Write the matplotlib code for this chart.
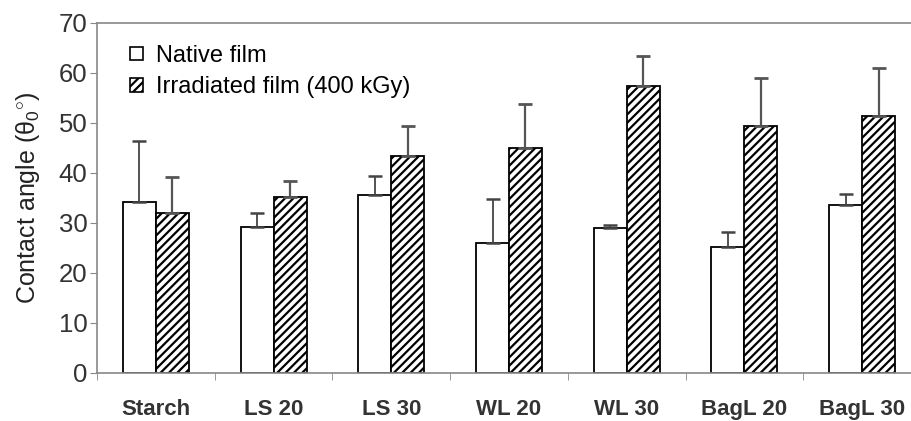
import numpy as np
import matplotlib
matplotlib.use("Agg")
import matplotlib.pyplot as plt
from matplotlib.patches import Patch

plt.rcParams['font.family'] = ['Liberation Sans', 'DejaVu Sans']
plt.rcParams['mathtext.fontset'] = 'custom'
plt.rcParams['mathtext.rm'] = 'Liberation Sans'
plt.rcParams['mathtext.it'] = 'Liberation Sans:italic'
plt.rcParams['hatch.linewidth'] = 1.6

categories = ["Starch", "LS 20", "LS 30", "WL 20", "WL 30", "BagL 20", "BagL 30"]
native = [34.2, 29.2, 35.7, 26.1, 29.1, 25.3, 33.6]
native_err = [12.1, 2.8, 3.6, 8.7, 0.6, 2.9, 2.3]
irradiated = [32.0, 35.3, 43.5, 45.1, 57.4, 49.5, 51.5]
irradiated_err = [7.3, 3.1, 5.9, 8.7, 6.0, 9.5, 9.6]

W, H = 9.11, 4.21
fig = plt.figure(figsize=(W, H), dpi=100)
ax = fig.add_axes([97 / 911, 48 / 421, 824 / 911, 350 / 421])

x = np.arange(len(categories))
bw = 0.28
ax.bar(x - bw / 2, native, bw, color="white", edgecolor="black", lw=1.3, zorder=2)
ax.bar(x + bw / 2, irradiated, bw, color="white", edgecolor="black", lw=1.3,
       hatch="////", zorder=2)
ax.errorbar(x - bw / 2, native, yerr=[np.zeros(len(native)), native_err], fmt="none",
            ecolor="#444444", elinewidth=1.3, capsize=5, capthick=1.8, zorder=3)
ax.errorbar(x + bw / 2, irradiated, yerr=[np.zeros(len(irradiated)), irradiated_err],
            fmt="none", ecolor="#555555", elinewidth=1.6, capsize=5, capthick=2, zorder=3)

ax.set_xlim(-0.5, len(categories) - 0.5)
ax.set_ylim(0, 70)
ax.set_yticks(range(0, 71, 10))
ax.set_xticks(x)
ax.set_xticklabels(categories, fontweight="bold")
ax.set_xticks(np.arange(-0.5, len(categories)), minor=True)
ax.tick_params(axis="x", which="major", length=0, pad=19, labelsize=16, colors="#222222")
ax.tick_params(axis="x", which="minor", length=5, color="#888888", direction="out")
ax.tick_params(axis="y", length=5, color="#888888", labelsize=18.5, colors="#333333", pad=2)
for lbl in ax.get_xticklabels():
    lbl.set_color("#333333")

for s in ["left", "top", "bottom"]:
    ax.spines[s].set_color("#888888")
    ax.spines[s].set_linewidth(1.2)
ax.spines["right"].set_visible(False)

ax.set_ylabel(r"Contact angle (θ$_0$$^{\circ}$)", fontsize=18, color="#222222", labelpad=12)

handles = [Patch(facecolor="white", edgecolor="black", lw=1.2),
           Patch(facecolor="white", edgecolor="black", lw=1.2, hatch="////")]
ax.legend(handles, ["Native film", "Irradiated film (400 kGy)"], loc="upper left",
          bbox_to_anchor=(0.04, 0.937), frameon=False, fontsize=17,
          borderaxespad=0, borderpad=0,
          handlelength=0.55, handleheight=0.5, handletextpad=0.55, labelspacing=0.4)

fig.savefig("out.png", dpi=100, facecolor="white")
